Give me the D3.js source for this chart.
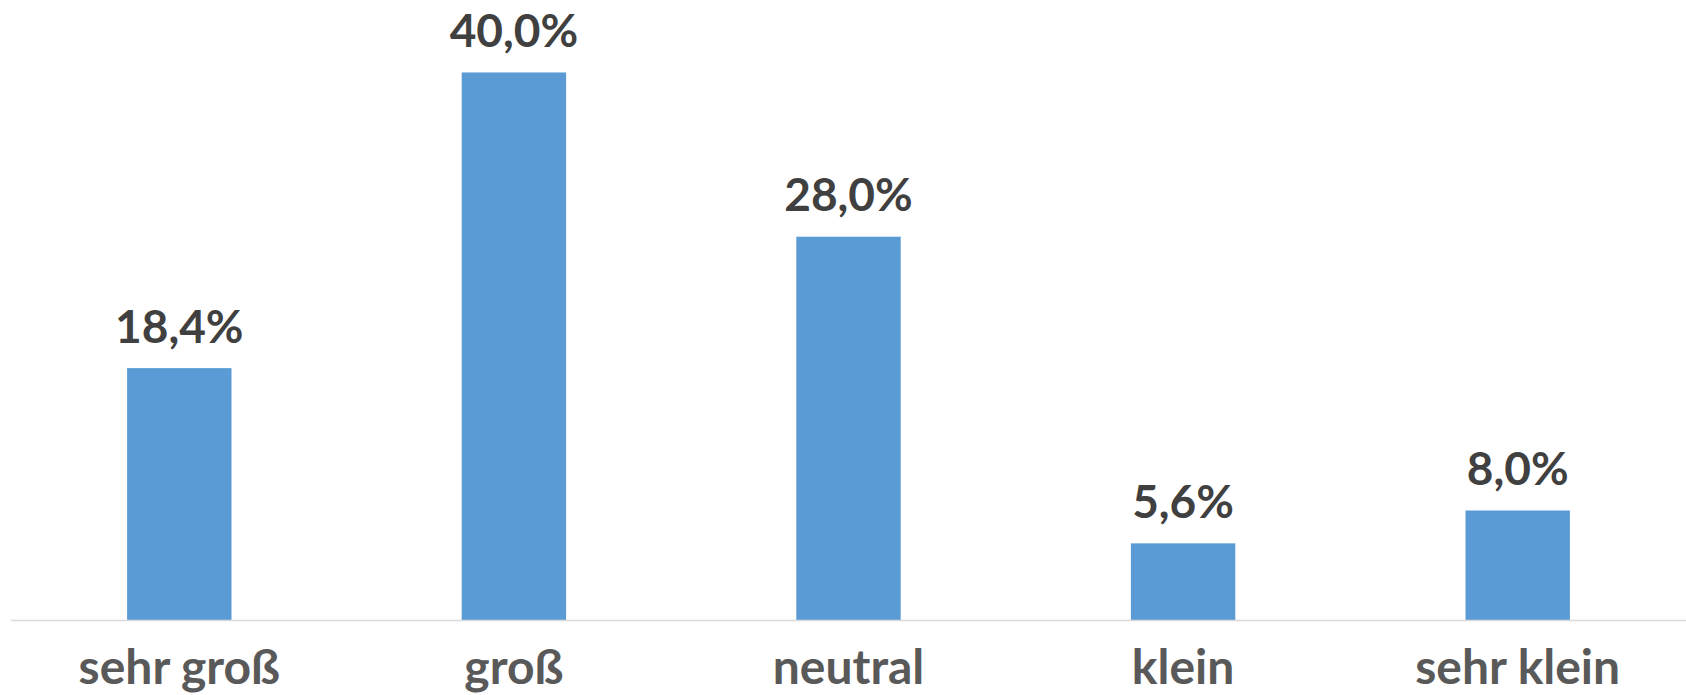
<!DOCTYPE html>
<html>
<head>
<meta charset="utf-8">
<script src="https://cdn.jsdelivr.net/npm/d3@7/dist/d3.min.js"></script>
<style>
  html, body { margin: 0; padding: 0; background: #ffffff; }
  svg { display: block; }
</style>
</head>
<body>
<svg id="chart" width="1686" height="695"></svg>
<script>
const categories = ["sehr groß", "groß", "neutral", "klein", "sehr klein"];
const values = [18.4, 40.0, 28.0, 5.6, 8.0];
const yDomain = [0, 45];

const width = 1686, height = 695;
const margin = { left: 12, right: 1, top: 4, bottom: 75 };
const svg = d3.select("#chart");

const x = d3.scaleBand()
  .domain(categories)
  .range([margin.left, width - margin.right])
  .paddingInner(0.688)
  .paddingOuter(0.344);

const y = d3.scaleLinear()
  .domain(yDomain)
  .range([height - margin.bottom, margin.top]);

const de = d3.formatLocale({ decimal: ",", thousands: ".", grouping: [3], currency: ["", " €"] });
const fmt = v => de.format(".1f")(v) + "%";

const data = categories.map((c, i) => ({ c, v: values[i] }));

// bars
svg.append("g").selectAll("rect").data(data).join("rect")
  .attr("x", d => x(d.c))
  .attr("y", d => y(d.v))
  .attr("width", x.bandwidth())
  .attr("height", d => y(0) - y(d.v))
  .attr("fill", "#5B9BD5");

// x axis
const xAxis = d3.axisBottom(x).tickSize(0).tickPadding(0);
const gx = svg.append("g")
  .attr("transform", `translate(0,${y(0)})`)
  .call(xAxis);
gx.select(".domain")
  .attr("d", `M${11},0.5H${width}`)
  .attr("stroke", "#D9D9D9")
  .attr("stroke-width", 1.5);
gx.selectAll(".tick text")
  .attr("y", 64)
  .attr("dy", 0)
  .attr("fill", "#595959")
  .style("font-family", "Lato, 'Open Sans', sans-serif")
  .style("font-weight", "700")
  .style("font-size", "48px");

// value labels
svg.append("g").selectAll("text").data(data).join("text")
  .attr("x", d => x(d.c) + x.bandwidth() / 2)
  .attr("y", d => y(d.v) - 25.5)
  .attr("text-anchor", "middle")
  .attr("fill", "#404040")
  .style("font-family", "Lato, 'Open Sans', sans-serif")
  .style("font-weight", "700")
  .style("font-size", "46px")
  .text(d => fmt(d.v));
</script>
</body>
</html>
